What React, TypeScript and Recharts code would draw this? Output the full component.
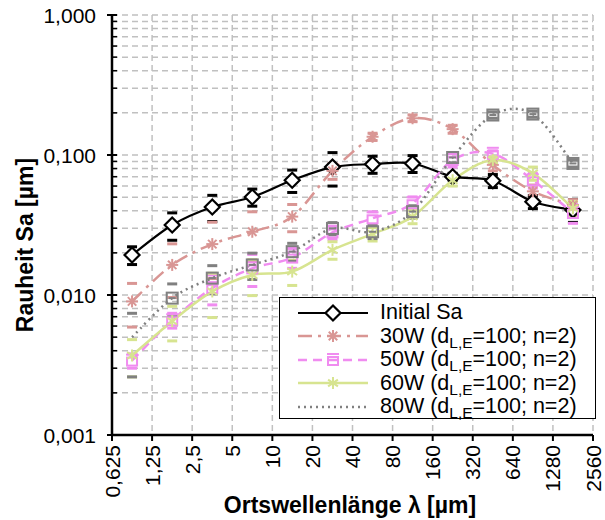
import React from "react";
import { LineChart, Line, XAxis, YAxis, CartesianGrid, ErrorBar, Legend, Label } from "recharts";

// Ortswellenlänge (Bandmitten) in µm
const lambda = [0.884, 1.77, 3.54, 7.07, 14.1, 28.3, 56.6, 113, 226, 453, 905, 1810];

// Sa-Werte und Standardabweichungen in µm
const saInitial = [0.0193, 0.0316, 0.0425, 0.0501, 0.066, 0.082, 0.086, 0.087, 0.07, 0.0655, 0.0464, 0.0405];
const errInitial = [0.0028, 0.007, 0.009, 0.007, 0.012, 0.022, 0.012, 0.012, 0.004, 0.007, 0.005, 0.0075];

const sa30W = [0.009, 0.0164, 0.0231, 0.0283, 0.0363, 0.077, 0.135, 0.183, 0.153, 0.085, 0.055, 0.044];
const err30W = [0.0031, 0.0068, 0.01, 0.011, 0.008, 0.01, 0.008, 0.01, 0.01, 0.008, 0.006, 0.004];

const sa50W = [0.0034, 0.0066, 0.0112, 0.0155, 0.0185, 0.028, 0.0353, 0.0452, 0.092, 0.102, 0.066, 0.0385];
const err50W = [0.0004, 0.0008, 0.0027, 0.004, 0.003, 0.003, 0.004, 0.005, 0.01, 0.005, 0.008, 0.006];

const sa60W = [0.0037, 0.0065, 0.0106, 0.0139, 0.0147, 0.021, 0.0273, 0.0363, 0.066, 0.092, 0.074, 0.0416];
const err60W = [0.0011, 0.0018, 0.0037, 0.004, 0.003, 0.003, 0.003, 0.004, 0.006, 0.005, 0.008, 0.005];

const sa80W = [0.005, 0.0095, 0.0132, 0.0164, 0.0204, 0.0299, 0.0283, 0.0394, 0.096, 0.193, 0.196, 0.087];
const err80W = [0.0024, 0.0025, 0.003, 0.0035, 0.003, 0.003, 0.003, 0.004, 0.008, 0.01, 0.01, 0.005];

const xTicks = [0.625, 1.25, 2.5, 5, 10, 20, 40, 80, 160, 320, 640, 1280, 2560];
const xTickLabels = ["0,625", "1,25", "2,5", "5", "10", "20", "40", "80", "160", "320", "640", "1280", "2560"];

const yMajor = [0.001, 0.01, 0.1, 1];
const yMajorLabels = ["0,001", "0,010", "0,100", "1,000"];
const yMinor = [
  0.002, 0.003, 0.004, 0.005, 0.006, 0.007, 0.008, 0.009,
  0.02, 0.03, 0.04, 0.05, 0.06, 0.07, 0.08, 0.09,
  0.2, 0.3, 0.4, 0.5, 0.6, 0.7, 0.8, 0.9,
];
const yTicks = [...yMajor, ...yMinor].sort((a, b) => a - b);

const seriesNames = [
  "Initial Sa",
  "30W (d_{L,E}=100; n=2)",
  "50W (d_{L,E}=100; n=2)",
  "60W (d_{L,E}=100; n=2)",
  "80W (d_{L,E}=100; n=2)",
];

const FONT = "'Liberation Sans', Arial, sans-serif";

type MarkerKind = "diamond" | "star8" | "pinkbox" | "star6" | "graybox";

type Series = {
  key: string;
  err: string;
  color: string;
  dash?: string;
  width: number;
  marker: MarkerKind;
  skipFirstDot?: boolean;
};

const SERIES: Series[] = [
  { key: "s0", err: "e0", color: "#000000", width: 2.2, marker: "diamond" },
  { key: "s30", err: "e30", color: "#d99694", dash: "14 6 3 6", width: 2.5, marker: "star8" },
  { key: "s50", err: "e50", color: "#f08cf0", dash: "9 6", width: 2.5, marker: "pinkbox" },
  { key: "s60", err: "e60", color: "#d7e490", width: 2.5, marker: "star6" },
  { key: "s80", err: "e80", color: "#808080", dash: "2 4", width: 2.5, marker: "graybox", skipFirstDot: true },
];

const data = lambda.map((x, i) => ({
  x,
  s0: saInitial[i], e0: errInitial[i],
  s30: sa30W[i], e30: err30W[i],
  s50: sa50W[i], e50: err50W[i],
  s60: sa60W[i], e60: err60W[i],
  s80: sa80W[i], e80: err80W[i],
}));

// Excel-artige Glättung (Catmull-Rom als Bezier)
function smoothCurve(context: any) {
  let pts: number[][] = [];
  return {
    areaStart() {},
    areaEnd() {},
    lineStart() {
      pts = [];
    },
    point(x: number, y: number) {
      pts.push([+x, +y]);
    },
    lineEnd() {
      const n = pts.length;
      if (!n) return;
      context.moveTo(pts[0][0], pts[0][1]);
      for (let i = 0; i < n - 1; i++) {
        const p0 = pts[Math.max(i - 1, 0)];
        const p1 = pts[i];
        const p2 = pts[i + 1];
        const p3 = pts[Math.min(i + 2, n - 1)];
        context.bezierCurveTo(
          p1[0] + (p2[0] - p0[0]) / 6,
          p1[1] + (p2[1] - p0[1]) / 6,
          p2[0] - (p3[0] - p1[0]) / 6,
          p2[1] - (p3[1] - p1[1]) / 6,
          p2[0],
          p2[1]
        );
      }
    },
  };
}

function Marker({ kind, cx, cy, color }: { kind: MarkerKind; cx: number; cy: number; color: string }) {
  if (kind === "diamond") {
    const r = 7.5;
    return (
      <polygon
        points={`${cx},${cy - r} ${cx + r},${cy} ${cx},${cy + r} ${cx - r},${cy}`}
        fill="#fff"
        stroke={color}
        strokeWidth={2.2}
      />
    );
  }
  if (kind === "star8" || kind === "star6") {
    const r = 6;
    const angles = kind === "star8" ? [0, 45, 90, 135] : [90, 35, 145];
    return (
      <g stroke={color} strokeWidth={2}>
        {angles.map((a) => {
          const dx = r * Math.cos((a * Math.PI) / 180);
          const dy = r * Math.sin((a * Math.PI) / 180);
          return <line key={a} x1={cx - dx} y1={cy - dy} x2={cx + dx} y2={cy + dy} />;
        })}
      </g>
    );
  }
  if (kind === "pinkbox") {
    return (
      <g stroke={color} strokeWidth={2} fill="none">
        <rect x={cx - 5} y={cy - 3} width={10} height={8} />
        <line x1={cx - 6} y1={cy - 6} x2={cx + 6} y2={cy - 6} />
      </g>
    );
  }
  return (
    <g stroke={color} strokeWidth={2} fill="none">
      <rect x={cx - 5.5} y={cy - 5.5} width={11} height={11} />
      <line x1={cx - 3.5} y1={cy} x2={cx + 3.5} y2={cy} />
    </g>
  );
}

function renderName(name: string) {
  const m = name.match(/^(.*)_\{(.+?)\}(.*)$/);
  if (!m) return name;
  return (
    <>
      {m[1]}
      <sub style={{ fontSize: "0.72em", verticalAlign: "-0.32em", lineHeight: 0 }}>{m[2]}</sub>
      {m[3]}
    </>
  );
}

function LegendBox() {
  return (
    <div
      style={{
        width: 317,
        height: 122,
        boxSizing: "border-box",
        border: "1.5px solid #000",
        background: "#fff",
        paddingTop: 3,
        fontFamily: FONT,
        fontSize: 21.5,
        color: "#000",
      }}
    >
      {SERIES.map((s, i) => (
        <div key={s.key} style={{ display: "flex", alignItems: "center", height: 23.5, whiteSpace: "nowrap" }}>
          <svg width={70} height={20} style={{ marginLeft: 18, overflow: "visible" }}>
            <line x1={0} y1={10} x2={70} y2={10} stroke={s.color} strokeWidth={s.width} strokeDasharray={s.dash} />
            {s.marker !== "graybox" && <Marker kind={s.marker} cx={35} cy={10} color={s.color} />}
          </svg>
          <span style={{ marginLeft: 12 }}>{renderName(seriesNames[i])}</span>
        </div>
      ))}
    </div>
  );
}

function XTick(props: any) {
  const { x, y, payload } = props;
  const label = xTickLabels[xTicks.indexOf(payload.value)];
  return (
    <text
      x={x}
      y={y}
      transform={`rotate(-90 ${x} ${y})`}
      textAnchor="end"
      dominantBaseline="central"
      fontSize={21}
      fontFamily={FONT}
      fill="#000"
    >
      {label}
    </text>
  );
}

function YTick(props: any) {
  const { x, y, payload } = props;
  const axisX = x + 10;
  const idx = yMajor.indexOf(payload.value);
  if (idx < 0) {
    return <line x1={axisX} y1={y} x2={axisX + 5} y2={y} stroke="#000" strokeWidth={1.5} />;
  }
  return (
    <g>
      <line x1={axisX - 5} y1={y} x2={axisX + 5} y2={y} stroke="#000" strokeWidth={2} />
      <text
        x={axisX - 16}
        y={y}
        textAnchor="end"
        dominantBaseline="central"
        fontSize={21}
        fontFamily={FONT}
        fill="#000"
      >
        {yMajorLabels[idx]}
      </text>
    </g>
  );
}

export default function App() {
  return (
    <div style={{ position: "absolute", left: 0, top: 0, width: 605, height: 520, background: "#fff" }}>
      <style>{".recharts-errorBar line:nth-of-type(2){display:none}"}</style>
      <LineChart width={605} height={520} data={data} margin={{ top: 15, right: 12, left: 0, bottom: 0 }}>
        <CartesianGrid stroke="#c0c0c0" strokeWidth={1.5} strokeDasharray="6 4" />
        <XAxis
          dataKey="x"
          type="number"
          scale="log"
          domain={[0.625, 2560]}
          ticks={xTicks}
          interval={0}
          allowDataOverflow
          height={85}
          tickSize={6}
          tickMargin={4}
          axisLine={{ stroke: "#000", strokeWidth: 2.5 }}
          tickLine={{ stroke: "#000", strokeWidth: 2 }}
          tick={<XTick />}
        >
          <Label
            content={() => (
              <text
                x={350}
                y={513}
                textAnchor="middle"
                fontSize={23}
                fontWeight="bold"
                fontFamily={FONT}
                fill="#000"
              >
                Ortswellenlänge λ [µm]
              </text>
            )}
          />
        </XAxis>
        <YAxis
          type="number"
          scale="log"
          domain={[0.001, 1]}
          ticks={yTicks}
          interval={0}
          allowDataOverflow
          width={112}
          tickSize={6}
          tickMargin={4}
          axisLine={{ stroke: "#000", strokeWidth: 2.5 }}
          tickLine={false}
          tick={<YTick />}
        >
          <Label
            content={() => (
              <text
                x={25}
                y={245}
                transform="rotate(-90 25 245)"
                textAnchor="middle"
                dominantBaseline="central"
                fontSize={23}
                fontWeight="bold"
                fontFamily={FONT}
                fill="#000"
              >
                Rauheit Sa [µm]
              </text>
            )}
          />
        </YAxis>
        {SERIES.map((s, i) => (
          <Line
            key={s.key}
            dataKey={s.key}
            name={seriesNames[i]}
            type={smoothCurve as any}
            stroke={s.color}
            strokeWidth={s.width}
            strokeDasharray={s.dash}
            isAnimationActive={false}
            dot={(p: any) =>
              s.skipFirstDot && p.index === 0 ? (
                <g key={`${s.key}-${p.index}`} />
              ) : (
                <Marker key={`${s.key}-${p.index}`} kind={s.marker} cx={p.cx} cy={p.cy} color={s.color} />
              )
            }
            activeDot={false}
          >
            <ErrorBar dataKey={s.err} direction="y" width={5} stroke={s.color} strokeWidth={3} isAnimationActive={false} />
          </Line>
        ))}
        <Legend
          layout="vertical"
          align="center"
          verticalAlign="middle"
          content={() => <LegendBox />}
          wrapperStyle={{ position: "absolute", left: 279, top: 297, width: 317, height: 122, margin: 0 }}
        />
      </LineChart>
    </div>
  );
}
